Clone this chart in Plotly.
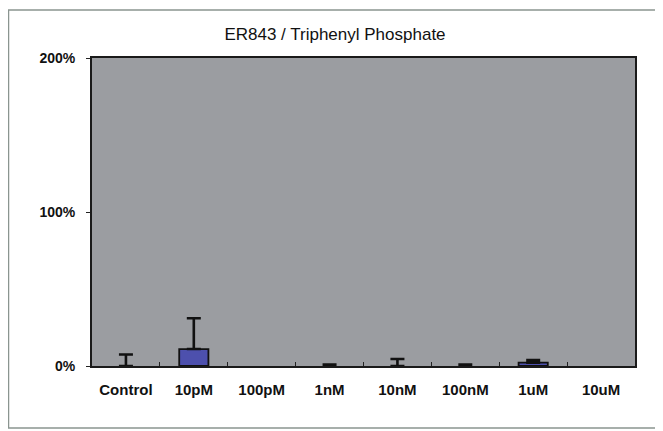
import plotly.graph_objects as go

categories = ["Control", "10pM", "100pM", "1nM", "10nM", "100nM", "1uM", "10uM"]
values = [0.0, 11.0, None, 0.0, 0.0, 0.0, 2.2, None]
errors = [7.5, 20.0, None, 1.0, 4.5, 1.0, 1.6, None]
y_ticks = [0, 100, 200]
y_tick_labels = ["0%", "100%", "200%"]

# page has an 8px body margin; figure origin sits at screen (8, 8)
OFF = 8
W, H = 663 - OFF, 431 - OFF
L, R, T, B = 92 - OFF, 28, 58 - OFF, 65
pw, ph = W - L - R, H - T - B

def px_x(p):
    return (p - OFF - L) / pw

def px_y(p):
    return (H + OFF - B - p) / ph

fig = go.Figure()
fig.add_trace(go.Bar(
    x=categories, y=values,
    width=0.43,
    marker=dict(color="#4d50ad",
                line=dict(color="#111111", width=[1.8 if (v or 0) > 0 else 0 for v in values])),
    error_y=dict(type="data", array=errors,
                 arrayminus=[0 if e is not None else None for e in errors],
                 symmetric=False, color="#111111", thickness=2.6, width=7),
))

fig.add_shape(type="rect", xref="paper", yref="paper",
              x0=px_x(8.5), x1=px_x(659), y0=px_y(428), y1=px_y(10),
              line=dict(color="#8a9590", width=1.5), layer="below")

font_family = "Liberation Sans, Arial"
fig.update_layout(
    width=W, height=H,
    margin=dict(l=L, r=R, t=T, b=B),
    paper_bgcolor="white",
    plot_bgcolor="#9b9da1",
    showlegend=False,
    title=dict(text="ER843 / Triphenyl Phosphate", x=(335 - OFF) / W, xanchor="center",
               y=1 - (34 - OFF) / H, yanchor="middle",
               font=dict(family=font_family, size=17, color="#111111")),
    font=dict(family=font_family, color="#111111"),
    xaxis=dict(
        type="category", categoryorder="array", categoryarray=categories,
        showgrid=False, zeroline=False,
        ticks="inside", tickson="boundaries", ticklen=4, tickcolor="#222222",
        showline=True, linecolor="#1a1a1a", linewidth=2, mirror=True,
        tickfont=dict(size=15, family=font_family, weight="bold"),
        ticklabelstandoff=9,
    ),
    yaxis=dict(
        range=[0, 200], tickvals=y_ticks, ticktext=y_tick_labels,
        showgrid=False, zeroline=False,
        ticks="outside", ticklen=4, tickcolor="#222222",
        showline=True, linecolor="#1a1a1a", linewidth=2, mirror=True,
        tickfont=dict(size=14, family=font_family, weight="bold"),
        ticklabelstandoff=8,
    ),
)

fig.write_html("out.html")
